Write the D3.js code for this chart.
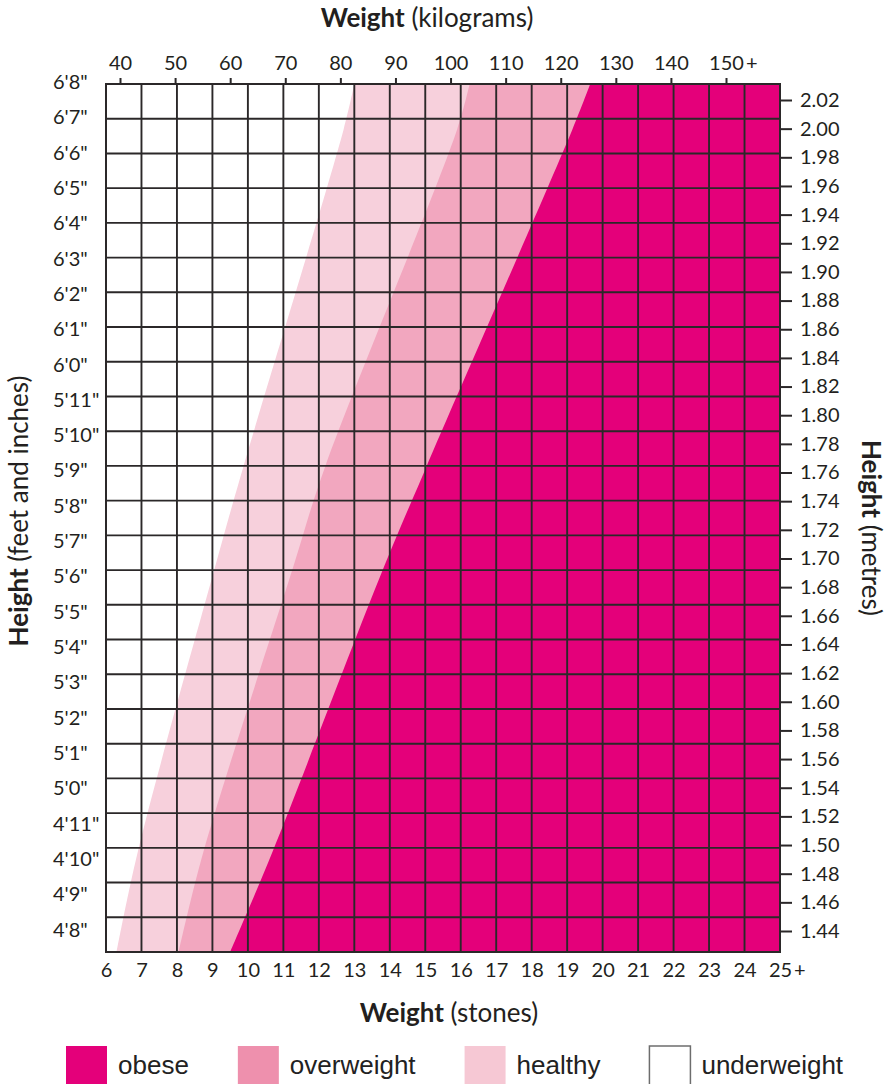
<!DOCTYPE html>
<html>
<head>
<meta charset="utf-8">
<script src="https://cdn.jsdelivr.net/npm/d3@7"></script>
<style>
  body { margin: 0; background: white; }
  svg text { font-family: Lato, "Open Sans", sans-serif; fill: #231f20; }
</style>
</head>
<body>
<div id="chart"></div>
<script>
// tick values / labels
let stoneTicks = [6, 7, 8, 9, 10, 11, 12, 13, 14, 15, 16, 17, 18, 19, 20, 21, 22, 23, 24, 25];
let kgTicks = [40, 50, 60, 70, 80, 90, 100, 110, 120, 130, 140, 150];
let heightInches = [80, 79, 78, 77, 76, 75, 74, 73, 72, 71, 70, 69, 68, 67, 66, 65, 64, 63, 62, 61, 60, 59, 58, 57, 56];
let heightLabels = ["6'8\"", "6'7\"", "6'6\"", "6'5\"", "6'4\"", "6'3\"", "6'2\"", "6'1\"", "6'0\"", "5'11\"", "5'10\"", "5'9\"", "5'8\"", "5'7\"", "5'6\"", "5'5\"", "5'4\"", "5'3\"", "5'2\"", "5'1\"", "5'0\"", "4'11\"", "4'10\"", "4'9\"", "4'8\""];
let metreTicks = [2.02, 2.00, 1.98, 1.96, 1.94, 1.92, 1.90, 1.88, 1.86, 1.84, 1.82, 1.80, 1.78, 1.76, 1.74, 1.72, 1.70, 1.68, 1.66, 1.64, 1.62, 1.60, 1.58, 1.56, 1.54, 1.52, 1.50, 1.48, 1.46, 1.44];

// band boundaries: weight in stones where each band starts, at these heights (inches)
let bandHeights = [80, 78.7, 68.9, 66, 57.9, 55];
let healthyFrom = [13.0, 12.7, 9.85, 9.05, 6.9, 6.3];
let overweightFrom = [16.25, 15.9, 12.15, 11.25, 8.75, 8.05];
let obeseFrom = [19.65, 19.15, 15.0, 13.8, 10.7, 9.5];

let legendNames = ['obese', 'overweight', 'healthy', 'underweight'];

let margin = { top: 84, left: 106, right: 111, bottom: 132 },
  width = 891,
  height = 1084,
  plotW = width - margin.left - margin.right,
  plotH = height - margin.top - margin.bottom;

let bandColor = { healthy: '#f7d0dc', overweight: '#f2a7bf', obese: '#e4007a' };
let legendColor = { obese: '#e4007a', overweight: '#ee90ad', healthy: '#f6c8d4', underweight: '#ffffff' };
let ink = '#2b2829';
let tickFont = '20px';

let svg = d3.select('#chart')
  .append('svg')
  .attr('width', width)
  .attr('height', height)
  .style('background-color', 'white');

let g = svg.append('g').attr('transform', 'translate(' + margin.left + ',' + margin.top + ')');

//scales
let x = d3.scaleLinear().domain([6, 25]).range([0, plotW]);
let yIn = d3.scaleLinear().domain([55, 80]).range([plotH, 0]);
let xKg = d3.scaleLinear().domain([40, 150]).range([14, 620]);
let yLabel = d3.scaleLinear().domain([56, 80]).range([845.5, -2]);
let yM = d3.scaleLinear().domain([1.44, 2.02]).range([847, 16]);

g.append('clipPath').attr('id', 'plotclip')
  .append('rect').attr('width', plotW).attr('height', plotH);

//coloured bands, each one from its boundary to the right edge
let bands = [['healthy', healthyFrom], ['overweight', overweightFrom], ['obese', obeseFrom]];
bands.forEach(function(b) {
  let pts = bandHeights.map(function(h, i) { return { h: h, s: b[1][i] }; });
  let area = d3.area()
    .y(function(d) { return yIn(d.h); })
    .x0(function(d) { return x(d.s); })
    .x1(x(25))
    .curve(d3.curveCatmullRom.alpha(0.5));
  g.append('path')
    .attr('clip-path', 'url(#plotclip)')
    .attr('d', area(pts))
    .attr('fill', bandColor[b[0]]);
});

//grid
g.selectAll('.vline')
  .data(stoneTicks)
  .enter().append('line')
  .attr('x1', function(d) { return x(d); })
  .attr('x2', function(d) { return x(d); })
  .attr('y1', 0)
  .attr('y2', plotH)
  .attr('stroke', ink)
  .attr('stroke-width', 1.9);

g.selectAll('.hline')
  .data(heightInches)
  .enter().append('line')
  .attr('x1', 0)
  .attr('x2', plotW)
  .attr('y1', function(d) { return yIn(d); })
  .attr('y2', function(d) { return yIn(d); })
  .attr('stroke', ink)
  .attr('stroke-width', 1.9);

g.append('rect')
  .attr('width', plotW)
  .attr('height', plotH)
  .attr('fill', 'none')
  .attr('stroke', ink)
  .attr('stroke-width', 2);

function styleAxis(sel) {
  sel.select('.domain').remove();
  sel.attr('font-family', null).attr('font-size', null);
  sel.selectAll('.tick line').attr('stroke', ink).attr('stroke-width', 2);
  sel.selectAll('.tick text').style('font-size', tickFont).attr('fill', null);
}

// adds the "+" after the last tick label
function addPlus(sel, last) {
  sel.selectAll('.tick text').filter(function(d) { return d === last; }).each(function() {
    let t = d3.select(this);
    let w = this.getComputedTextLength();
    d3.select(this.parentNode).append('text')
      .attr('x', w / 2 + 2)
      .attr('y', t.attr('y'))
      .attr('dy', t.attr('dy'))
      .attr('text-anchor', 'start')
      .style('font-size', tickFont)
      .text('+');
  });
}

//top axis (kg)
let topAxis = g.append('g')
  .call(d3.axisTop(xKg).tickValues(kgTicks).tickSize(6).tickPadding(8));
styleAxis(topAxis);
addPlus(topAxis, 150);

//bottom axis (stones)
let bottomAxis = g.append('g')
  .attr('transform', 'translate(0,' + plotH + ')')
  .call(d3.axisBottom(x).tickValues(stoneTicks).tickSize(0).tickPadding(11));
styleAxis(bottomAxis);
addPlus(bottomAxis, 25);

//right axis (metres)
let rightAxis = g.append('g')
  .attr('transform', 'translate(' + plotW + ',0)')
  .call(d3.axisRight(yM).tickValues(metreTicks).tickSize(12).tickPadding(8).tickFormat(d3.format('.2f')));
styleAxis(rightAxis);

//left labels (feet and inches)
g.selectAll('.hlabel')
  .data(heightInches)
  .enter().append('text')
  .attr('x', 53 - margin.left)
  .attr('y', function(d) { return yLabel(d); })
  .attr('dy', '0.35em')
  .style('font-size', tickFont)
  .text(function(d, i) { return heightLabels[i]; });

//axis titles
function title(t, bold, rest) {
  t.style('font-size', '26px');
  t.append('tspan').style('font-weight', 'bold').text(bold);
  t.append('tspan').text(rest);
}
svg.append('text').attr('x', 427).attr('y', 27).attr('text-anchor', 'middle')
  .call(title, 'Weight', ' (kilograms)');
svg.append('text').attr('x', 449).attr('y', 1022).attr('text-anchor', 'middle')
  .call(title, 'Weight', ' (stones)');
svg.append('text').attr('transform', 'translate(28,511) rotate(-90)').attr('text-anchor', 'middle')
  .call(title, 'Height', ' (feet and inches)');
svg.append('text').attr('transform', 'translate(862,528) rotate(90)').attr('text-anchor', 'middle')
  .call(title, 'Height', ' (metres)');

//legend
let lx = 66;
legendNames.forEach(function(name) {
  svg.append('rect')
    .attr('x', lx)
    .attr('y', 1046)
    .attr('width', 41)
    .attr('height', 41)
    .attr('fill', legendColor[name])
    .attr('stroke', name === 'underweight' ? '#6d6d6d' : 'none')
    .attr('stroke-width', 1.5);
  let t = svg.append('text')
    .attr('x', lx + 52)
    .attr('y', 1074)
    .style('font-family', '"Liberation Sans", Arial, sans-serif')
    .style('font-size', '26px')
    .style('fill', '#222')
    .text(name);
  lx = lx + 52 + t.node().getComputedTextLength() + 49;
});
</script>
</body>
</html>
